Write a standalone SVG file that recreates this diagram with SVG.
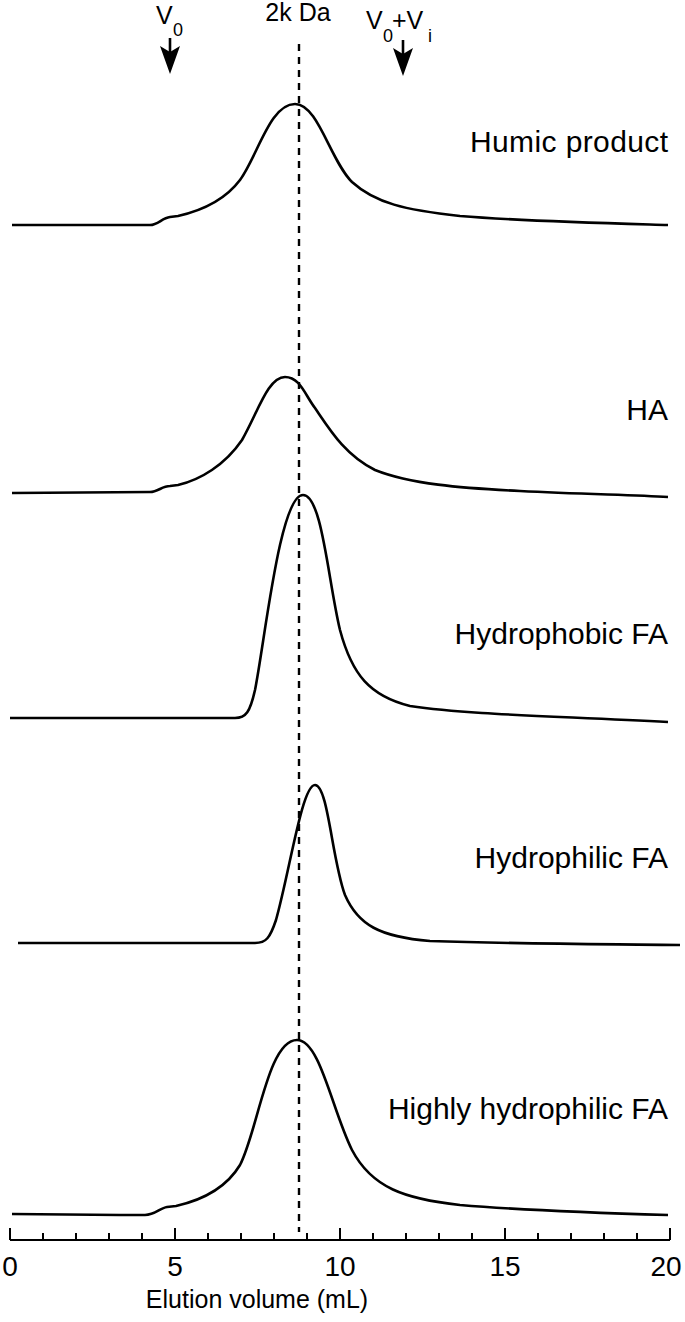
<svg xmlns="http://www.w3.org/2000/svg" width="685" height="1322" viewBox="0 0 685 1322">
<style>
text{font-family:"Liberation Sans",Arial,sans-serif;fill:#000}
.lbl{font-size:30px;text-anchor:end}
.c{fill:none;stroke:#000;stroke-width:2.6;stroke-linejoin:round}
.ax{stroke:#000;stroke-width:2;fill:none}
.tk{font-size:28px;text-anchor:middle}
.ttl{font-size:25px;text-anchor:middle}
.ah{fill:#000}
</style>
<g id="connectors">
<line x1="299" y1="44" x2="299" y2="1232" stroke="#000" stroke-width="2.4" stroke-dasharray="7,6"/>
<g id="arrow-v0"><line x1="170" y1="38" x2="170" y2="62" stroke="#000" stroke-width="2.6"/><path class="ah" d="M160,46 L170,52 L180,46 L170,74 Z"/></g>
<g id="arrow-vi"><line x1="403" y1="40" x2="403" y2="64" stroke="#000" stroke-width="2.6"/><path class="ah" d="M393,48 L403,54 L413,48 L403,76 Z"/></g>
</g>
<g id="top-labels">
<text x="156" y="24" font-size="25">V</text><text x="173" y="36" font-size="18">0</text>
<text x="298" y="21" font-size="25" text-anchor="middle">2k Da</text>
<text x="366" y="29" font-size="25">V</text><text x="383" y="42" font-size="18">0</text><text x="392" y="29" font-size="25">+V</text><text x="428" y="42" font-size="18">i</text>
</g>
<g id="humic">
<path class="c" d="M12,225 L150,225 C158,225 162,218 170,217 L178,216 C200,211 225,200 240,180 C258,155 270,104 295,104 C318,104 330,160 352,182 C375,203 405,210 460,216 C520,221 600,223 668,225"/>
<text class="lbl" x="668" y="152" textLength="198">Humic product</text>
</g>
<g id="ha">
<path class="c" d="M12,493 L150,492 C158,492 162,486 170,486 L178,485 C200,480 225,465 242,440 C258,412 268,377 285,377 C300,377 305,395 315,408 C330,430 345,455 375,470 C410,484 460,488 520,491 C580,494 630,495 668,497"/>
<text class="lbl" x="668" y="420">HA</text>
</g>
<g id="hydrophobic">
<path class="c" d="M10,718 L235,718 C246,718 250,712 255,690 C265,640 280,495 303,495 C322,495 328,580 340,630 C352,675 370,696 410,706 C470,715 560,716 668,722"/>
<text class="lbl" x="668" y="644">Hydrophobic FA</text>
</g>
<g id="hydrophilic">
<path class="c" d="M18,943 L255,943 C266,943 270,938 276,920 C290,870 302,785 315,785 C328,785 332,860 345,895 C358,925 380,937 430,941 C520,944 600,944 680,945"/>
<text class="lbl" x="668" y="868">Hydrophilic FA</text>
</g>
<g id="highly-hydrophilic">
<path class="c" d="M12,1214 L120,1215 L145,1215 C155,1215 160,1208 167,1207 L176,1206 C198,1201 225,1190 240,1165 C258,1130 268,1040 297,1040 C320,1040 332,1110 352,1150 C372,1188 405,1199 460,1205 C520,1210 600,1213 668,1215"/>
<text class="lbl" x="668" y="1119">Highly hydrophilic FA</text>
</g>
<g id="axis">
<line class="ax" x1="10" y1="1240" x2="670" y2="1240"/>
<path class="ax" d="M10,1228V1240 M43,1233V1240 M76,1233V1240 M109,1233V1240 M142,1233V1240 M175,1228V1240 M208,1233V1240 M241,1233V1240 M274,1233V1240 M307,1233V1240 M340,1228V1240 M373,1233V1240 M406,1233V1240 M439,1233V1240 M472,1233V1240 M505,1228V1240 M538,1233V1240 M571,1233V1240 M604,1233V1240 M637,1233V1240 M670,1228V1240"/>
<text class="tk" x="10" y="1276">0</text>
<text class="tk" x="175" y="1276">5</text>
<text class="tk" x="340" y="1276">10</text>
<text class="tk" x="505" y="1276">15</text>
<text class="tk" x="666" y="1276">20</text>
<text class="ttl" x="257" y="1308">Elution volume (mL)</text>
</g>
</svg>
